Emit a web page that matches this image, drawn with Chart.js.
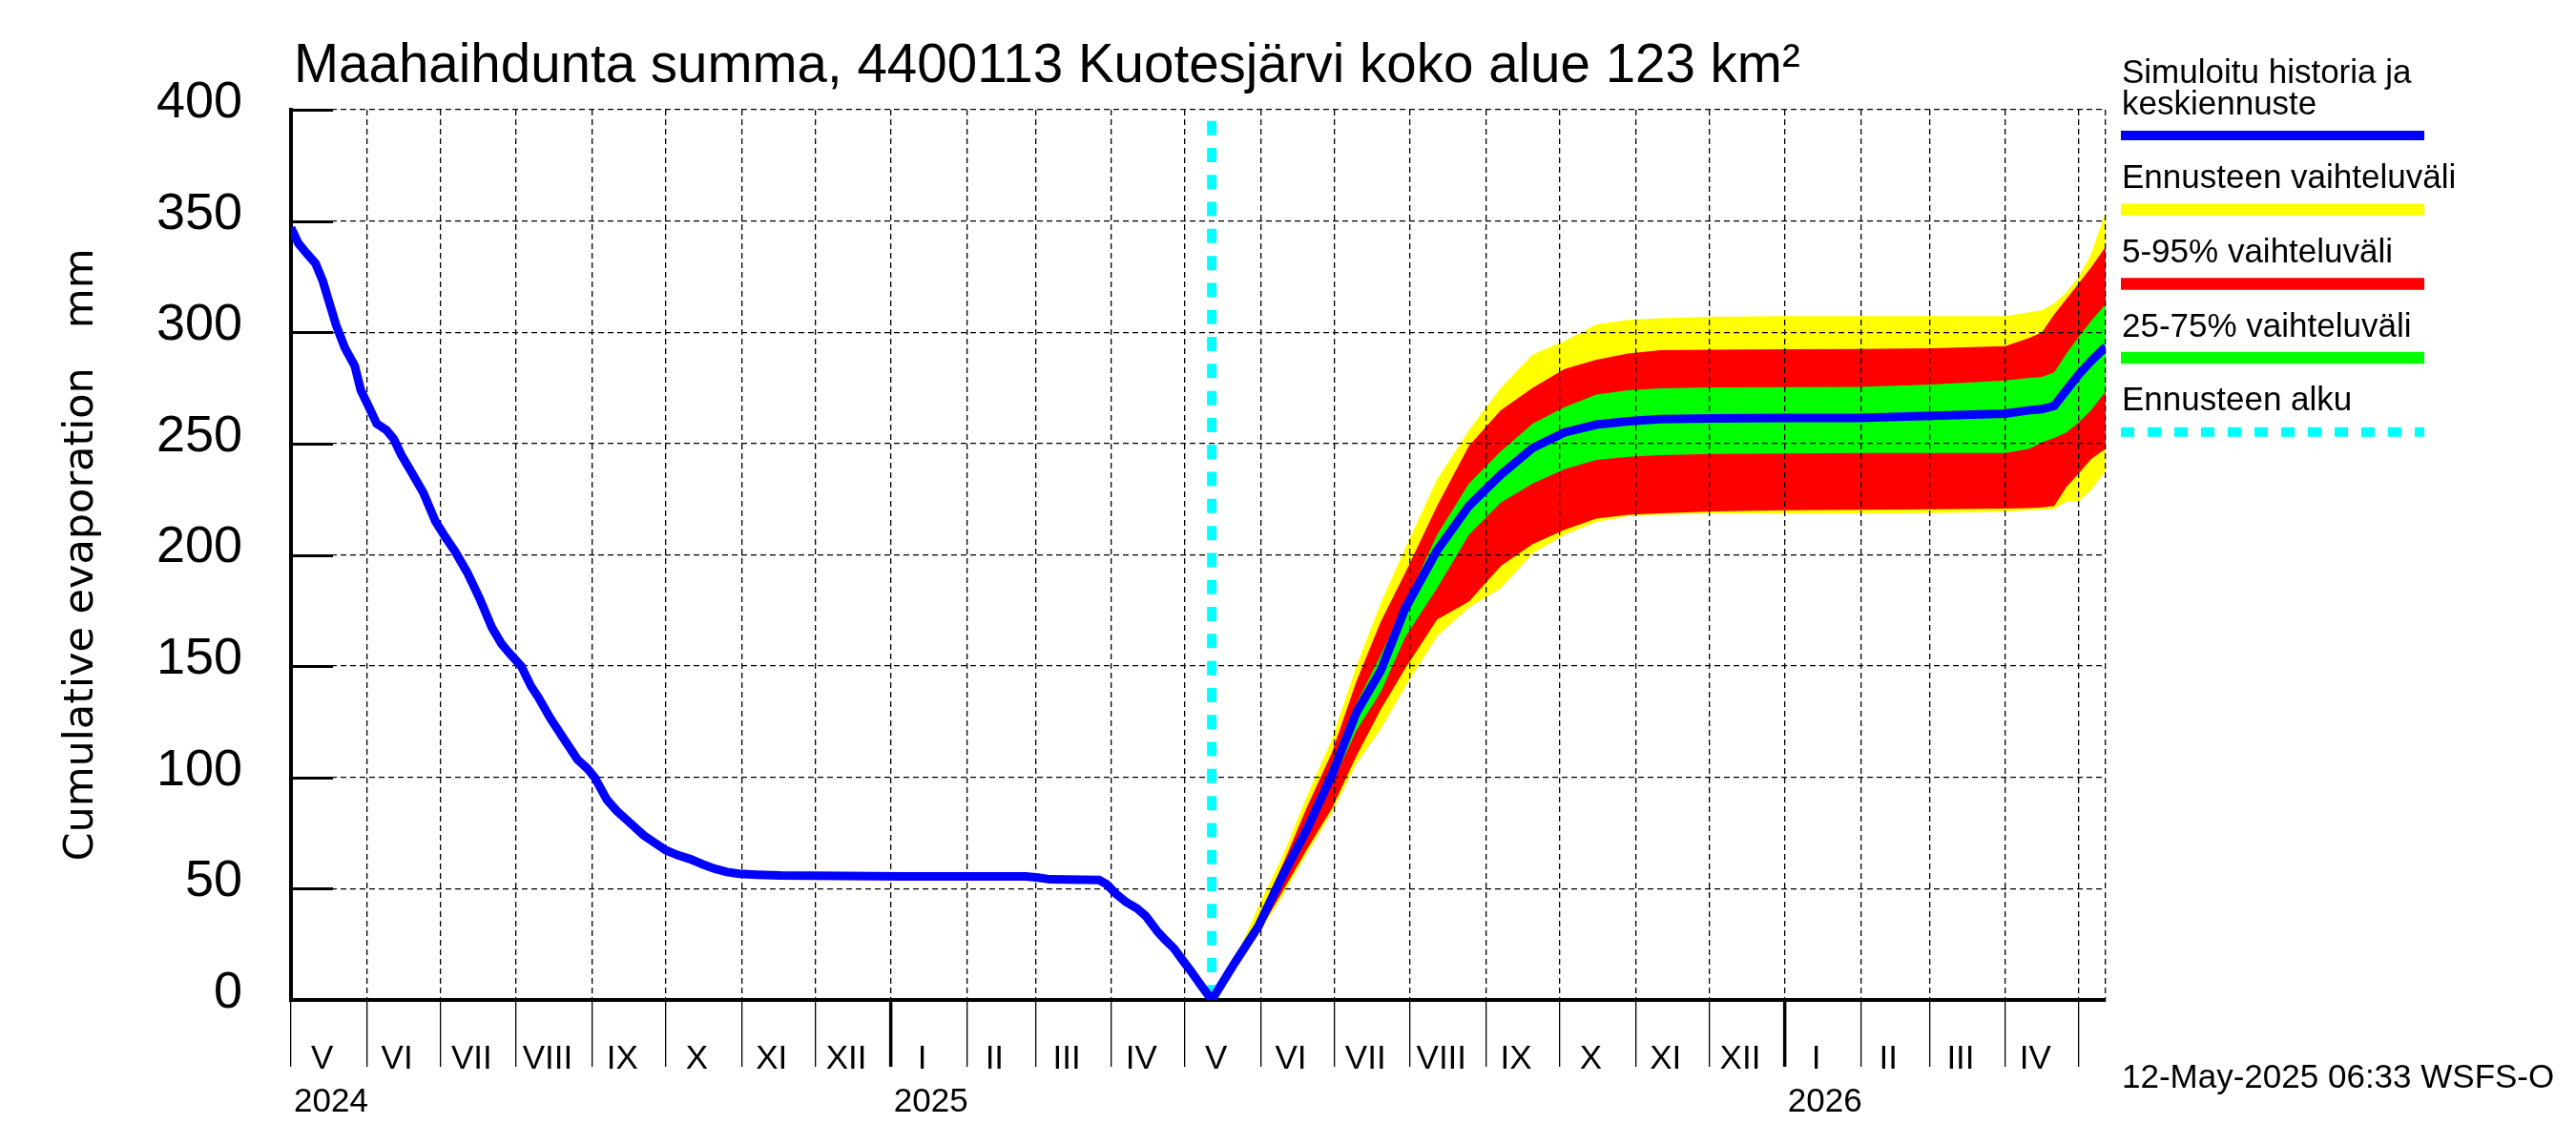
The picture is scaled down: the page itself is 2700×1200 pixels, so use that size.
<!DOCTYPE html>
<html>
<head>
<meta charset="utf-8">
<script src="https://cdn.jsdelivr.net/npm/chart.js@4.4.1/dist/chart.umd.min.js"></script>
<style>
html,body{margin:0;padding:0;background:#ffffff;}
canvas{display:block;}
</style>
</head>
<body>
<canvas id="c" width="2700" height="1200" style="width:2700px;height:1200px"></canvas>
<script>
// ---------- texts ----------
const titleText = 'Maahaihdunta summa, 4400113 Kuotesjärvi koko alue 123 km²';
const yAxisTitle = 'Cumulative evaporation   mm';
const timestampText = '12-May-2025 06:33 WSFS-O';
const legendLabels = [
  ['Simuloitu historia ja', 'keskiennuste'],
  ['Ennusteen vaihteluväli'],
  ['5-95% vaihteluväli'],
  ['25-75% vaihteluväli'],
  ['Ennusteen alku']
];

// ---------- x axis (days since 1 May 2024) ----------
const monthStarts = [0,31,61,92,123,153,184,214,245,276,304,335,365,396,426,457,488,518,549,579,610,641,669,700,730];
const monthLabels = ['V','VI','VII','VIII','IX','X','XI','XII','I','II','III','IV','V','VI','VII','VIII','IX','X','XI','XII','I','II','III','IV'];
const yearStarts = [0,245,610];
const yearLabels = ['2024','2025','2026'];
const xMax = 741;

// ---------- y axis ----------
const yMin = 0, yMax = 400, yStep = 50;

// ---------- forecast start ----------
const forecastStart = 376;
const forecastLineTop = 395;

// ---------- simulated history ----------
const historyDays = [0,3,6,10,13,16,18.5,22,26,28.5,32,35,39,42,45,49,54,59,63,67,72,77,82,86,89,94,98,101,106,111,117,121,124,129,133,136,139,144,148,153,158,163,168,173,178,183,190,200,250,300,305,310,330,333,337,341,345.5,349,354,357,360.6,364,367.3,372,376];
const historyValues = [347,340,336,331,323,312,303,293,285,274,266,259,256,252,245,237.5,228,215,208,201.5,192,180.5,167.4,160,156,150,141,136,126.4,118,108,104,100,90,85,82,79,74,71,67.3,65,63.3,61,59,57.5,56.7,56.3,55.9,55.5,55.5,55,54.2,53.9,52,47.6,44,41.1,37.8,30.5,27,23.1,18,13.2,6,0];

// ---------- forecast ----------
const forecastDays = [376,385,395,405,415,425,435,445,455,468,481,494,507,520,533,546,559,580,610,640,670,700,710,715,720,725,730,735,741];
const median   = [0,16,33,56,77,101,129,148,176,202,222,236,248,255,258.5,260,261,261.3,261.5,261.5,262.5,263.5,265,265.5,267,274,281,287,293.5];
const maxRange = [0,17,42,65,92,117,150,178.5,203,234,256,275,290,296,303.5,305.6,306.3,307,307.3,307.3,307.3,307.3,309,310,313,318,325,335,354];
const p95      = [0,16,37,61,87,111,143,170,192,222,249,265,275,283.5,287.7,290.5,292,292.2,292.4,292.5,292.8,293.8,297.5,300,308,315,322,329,338.5];
const p75      = [0,16,34,58,80,104,133,155,178,209,232,246.5,259,266.3,272,274,274.8,275.2,275.3,275.5,276.5,278.4,279.5,280,282,290.5,298,305,312.7];
const p25      = [0,15,32,54,74,97,121,138.4,163,185,209,223.5,232,238.5,242.7,244.1,244.8,245.3,245.6,245.8,245.8,245.8,247.7,250.6,252.5,255,259.5,265,273.4];
const p5       = [0,14,30,49,68,86,109.5,130.5,149,171,179,195,204.8,211.3,216.3,218,218.7,219.5,220,220.3,220.5,220.8,221,221.3,222,230.5,236.5,243,247.7];
const minRange = [0,14,29,47,66,84,106,121.8,140.7,163.4,176.3,185,200.6,209,214.8,217.4,218,218.5,218.5,218.6,218.8,219.4,220,220.3,220.6,224,224,229,237.7];

// ---------- helpers ----------
const pts = (xs, ys) => xs.map((x, i) => ({x: x, y: ys[i]}));
const BLUE = '#0000ff', CYAN = '#00ffff', YELLOW = '#ffff00', RED = '#ff0000', GREEN = '#00ff00';
const NONE = 'rgba(0,0,0,0)';
const FONT = '"Liberation Sans", Arial, Helvetica, sans-serif';

Chart.defaults.font.family = FONT;
Chart.defaults.color = '#000000';

const band = (data, color, fillTarget, order) => ({
  data: data,
  borderColor: NONE,
  borderWidth: 1,
  backgroundColor: color,
  fill: fillTarget === null ? false : fillTarget,
  pointRadius: 0,
  tension: 0,
  order: order
});

const decorPlugin = {
  id: 'decor',
  beforeDatasetsDraw(chart) {
    const {ctx, chartArea: a, scales: {y}} = chart;
    ctx.save();
    ctx.strokeStyle = '#000000';
    ctx.lineWidth = 3;
    y.ticks.forEach(t => {
      const py = Math.round(y.getPixelForValue(t.value)) + 0.5;
      ctx.beginPath();
      ctx.moveTo(a.left, py);
      ctx.lineTo(a.left + 44, py);
      ctx.stroke();
    });
    ctx.restore();
  },
  afterDraw(chart) {
    const {ctx, chartArea: a, scales: {x}} = chart;
    ctx.save();
    ctx.fillStyle = '#000000';
    ctx.textBaseline = 'alphabetic';

    // title
    ctx.font = '56.5px ' + FONT;
    ctx.textAlign = 'left';
    ctx.fillText(titleText, a.left + 3, 86);

    // month labels
    ctx.font = '35px ' + FONT;
    ctx.textAlign = 'center';
    for (let i = 0; i < monthLabels.length; i++) {
      const cx = (x.getPixelForValue(monthStarts[i]) + x.getPixelForValue(monthStarts[i + 1])) / 2 - 7;
      ctx.fillText(monthLabels[i], cx, a.bottom + 72);
    }
    // year labels
    ctx.textAlign = 'left';
    yearStarts.forEach((d, i) => {
      ctx.fillText(yearLabels[i], x.getPixelForValue(d) + 3, a.bottom + 117);
    });

    // legend
    const lx = a.right + 17, lw = 318;
    const styles = [
      {color: BLUE, width: 10, dash: []},
      {color: YELLOW, width: 12.5, dash: []},
      {color: RED, width: 12.5, dash: []},
      {color: GREEN, width: 12.5, dash: []},
      {color: CYAN, width: 10, dash: [14, 14]}
    ];
    legendLabels.forEach((lines, k) => {
      const barY = 142 + 77.7 * k;
      ctx.fillStyle = '#000000';
      ctx.textAlign = 'left';
      lines.forEach((txt, j) => {
        ctx.fillText(txt, lx, barY - 22.5 - (lines.length - 1 - j) * 33);
      });
      const st = styles[k];
      ctx.beginPath();
      ctx.setLineDash(st.dash);
      ctx.lineWidth = st.width;
      ctx.strokeStyle = st.color;
      ctx.lineCap = 'butt';
      ctx.moveTo(lx - 1, barY);
      ctx.lineTo(lx - 1 + lw, barY);
      ctx.stroke();
      ctx.setLineDash([]);
    });

    // timestamp
    ctx.fillStyle = '#000000';
    ctx.fillText(timestampText, lx, 1140);
    ctx.restore();
  }
};

new Chart(document.getElementById('c'), {
  type: 'line',
  data: {
    datasets: [
      {
        data: pts(historyDays.concat(forecastDays.slice(1)), historyValues.concat(median.slice(1))),
        borderColor: BLUE,
        borderWidth: 9,
        borderJoinStyle: 'miter',
        pointRadius: 0,
        tension: 0,
        fill: false,
        order: 1
      },
      {
        data: [{x: forecastStart, y: forecastLineTop}, {x: forecastStart, y: 0}],
        borderColor: CYAN,
        borderWidth: 10,
        borderDash: [15, 13.3],
        borderCapStyle: 'butt',
        pointRadius: 0,
        fill: false,
        order: 2
      },
      band(pts(forecastDays, p75), GREEN, 3, 3),
      band(pts(forecastDays, p25), GREEN, null, 3),
      band(pts(forecastDays, p95), RED, 5, 4),
      band(pts(forecastDays, p5), RED, null, 4),
      band(pts(forecastDays, maxRange), YELLOW, 7, 5),
      band(pts(forecastDays, minRange), YELLOW, null, 5)
    ]
  },
  options: {
    responsive: false,
    devicePixelRatio: 1,
    animation: false,
    events: [],
    layout: {padding: {left: 0, right: 493, top: 115, bottom: 0}},
    plugins: {
      legend: {display: false},
      tooltip: {enabled: false},
      title: {display: false},
      filler: {drawTime: 'beforeDraw'}
    },
    scales: {
      x: {
        type: 'linear',
        min: 0,
        max: xMax,
        afterBuildTicks: (s) => {
          s.ticks = monthStarts.concat([xMax]).map(v => ({value: v}));
        },
        afterFit: (s) => { s.height = 152; },
        ticks: {display: false},
        grid: {
          display: true,
          color: '#000000',
          lineWidth: 1.3,
          drawTicks: true,
          tickLength: 70,
          tickBorderDash: [],
          tickColor: (c) => (c.tick && c.tick.value === xMax) ? NONE : '#000000',
          tickWidth: (c) => (c.tick && c.tick.value !== 0 && yearStarts.includes(c.tick.value)) ? 3.5 : 1.3
        },
        border: {display: true, color: '#000000', width: 4, dash: [6, 4]}
      },
      y: {
        type: 'linear',
        min: yMin,
        max: yMax,
        afterFit: (s) => { s.width = 305; },
        ticks: {
          stepSize: yStep,
          padding: 51,
          labelOffset: -7,
          font: {size: 54, family: FONT},
          color: '#000000'
        },
        grid: {
          display: true,
          color: '#000000',
          lineWidth: 1.3,
          drawTicks: false
        },
        border: {display: true, color: '#000000', width: 4, dash: [6, 4]},
        title: {
          display: true,
          text: yAxisTitle,
          font: {size: 43, family: '"DejaVu Sans", sans-serif'},
          color: '#000000',
          padding: {top: 60, bottom: 0}
        }
      }
    }
  },
  plugins: [decorPlugin]
});
</script>
</body>
</html>
